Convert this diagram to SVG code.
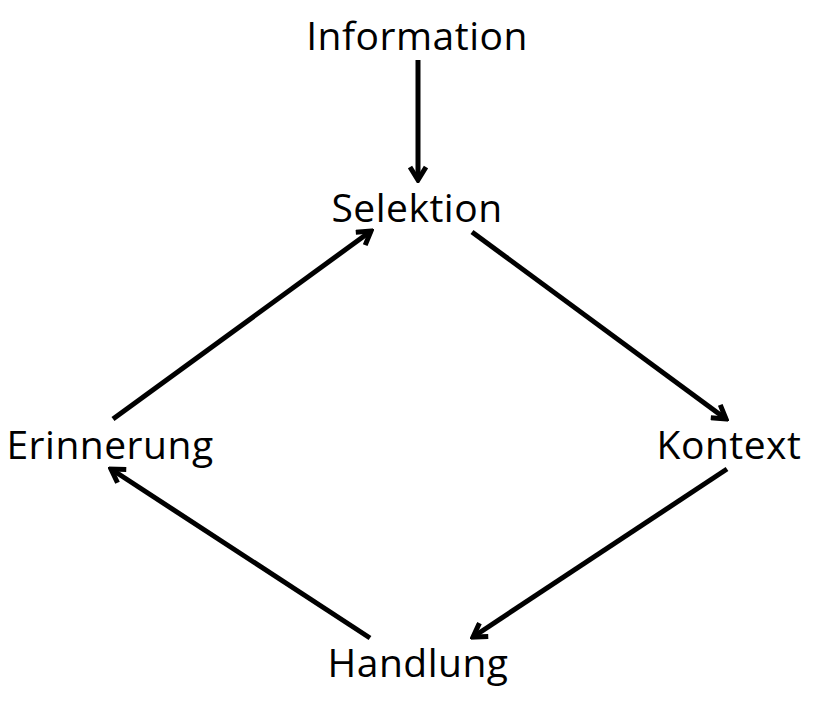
<svg xmlns="http://www.w3.org/2000/svg" width="817" height="701" viewBox="0 0 817 701">
<style>
.lbl{font-family:"Open Sans","Noto Sans",sans-serif;font-size:39px;letter-spacing:0.5px;fill:#000;text-anchor:middle}
.edge{stroke:#000;stroke-width:5;fill:none;stroke-linecap:butt}
</style>
<defs>
<marker id="ah" viewBox="0 0 20 20" refX="17" refY="10" markerWidth="20" markerHeight="20" markerUnits="userSpaceOnUse" orient="auto">
<path d="M4,2 L17,10 L4,18" fill="none" stroke="#000" stroke-width="5" stroke-linejoin="miter"/>
</marker>
</defs>
<rect width="817" height="701" fill="#fff"/>
<g id="connectors">
<line class="edge" x1="418" y1="60" x2="418" y2="180" marker-end="url(#ah)"/>
<line class="edge" x1="472" y1="232" x2="726" y2="419" marker-end="url(#ah)"/>
<line class="edge" x1="727" y1="469" x2="473" y2="637" marker-end="url(#ah)"/>
<line class="edge" x1="370" y1="638" x2="111" y2="469" marker-end="url(#ah)"/>
<line class="edge" x1="113" y1="419" x2="371" y2="231" marker-end="url(#ah)"/>
</g>
<g id="n-information"><text class="lbl" x="417" y="50">Information</text></g>
<g id="n-selektion"><text class="lbl" x="417" y="222">Selektion</text></g>
<g id="n-erinnerung"><text class="lbl" x="110" y="459">Erinnerung</text></g>
<g id="n-kontext"><text class="lbl" x="729" y="459">Kontext</text></g>
<g id="n-handlung"><text class="lbl" x="418" y="677">Handlung</text></g>
</svg>
